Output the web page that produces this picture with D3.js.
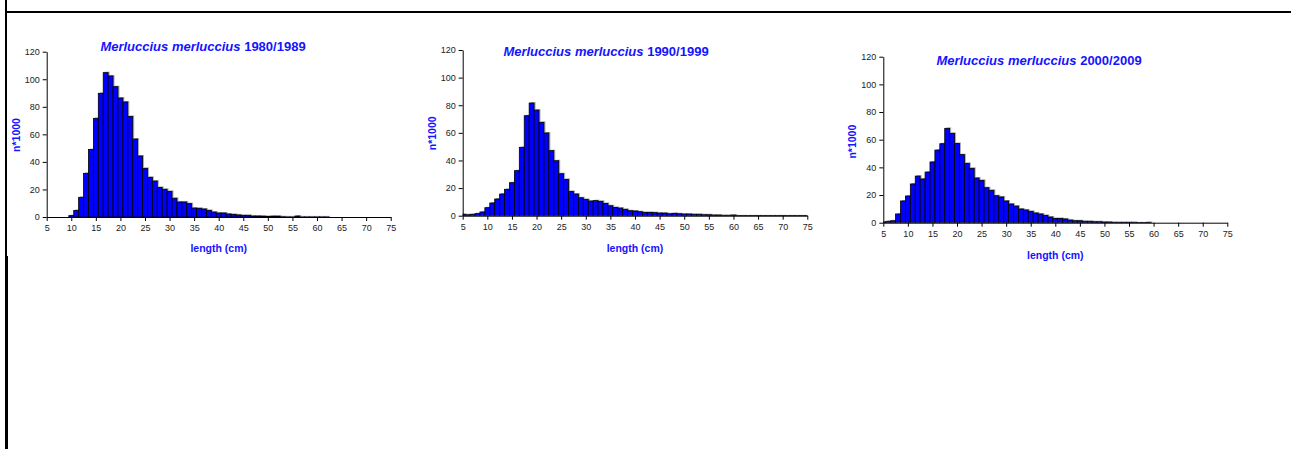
<!DOCTYPE html>
<html>
<head>
<meta charset="utf-8">
<script src="https://d3js.org/d3.v7.min.js"></script>
<style>
  body { margin: 0; background: #fff; }
  svg { display: block; font-family: "Liberation Sans", Arial, sans-serif; }
  .tick text { fill: #222; font-size: 9px; }
  .ttl { fill: #1414ff; font-weight: bold; font-size: 13px; }
  .lab { fill: #1414ff; font-weight: bold; font-size: 10.5px; }
</style>
</head>
<body>
<svg id="chart" width="1291" height="449"></svg>
<script>
// length classes (cm)
const lengths = [5,6,7,8,9,10,11,12,13,14,15,16,17,18,19,20,21,22,23,24,25,26,27,28,29,30,
  31,32,33,34,35,36,37,38,39,40,41,42,43,44,45,46,47,48,49,50,51,52,53,54,55,56,57,58,59,60,
  61,62,63,64,65,66,67,68,69,70,71,72,73,74,75];
const xTicks = [5,10,15,20,25,30,35,40,45,50,55,60,65,70,75];
const yTicks = [0,20,40,60,80,100,120];
const periods = ["1980/1989", "1990/1999", "2000/2009"];

// n*1000 per length class
const n1980 = [0,0,0,0,0, 1,4.8,14.3,31.7,49,71.6,89.8,104.8,102.4,94.6,
  86.4,83.5,73,56.6,44.3,35.3,28.8,26.1,21.5,20.1,
  18.6,13.6,10.9,10.9,9.7,6.5,6.3,5.8,4.8,3.6,
  2.9,2.9,2.2,1.9,1.5,1.2,1.2,0.7,0.7,0.6,
  0.4,0.6,0.6,0.2,0.1,0.1,0.7,0.1,0.1,0.1,
  0.1,0.1,0.1,0,0,0,0,0,0,0, 0,0,0,0,0,0];
const n1990 = [1,0.7,1,1.5,2.7, 5.8,9.2,12.1,15.7,19.1,23.9,32.6,49.5,72.4,81.6,
  76.5,67.6,59.9,47.1,39.8,30.4,26.3,17.6,15.7,13,
  11.8,10.6,10.9,10.4,8.9,7.2,6,5.5,4.6,3.6,
  3.4,2.9,2.4,2.4,2.2,1.9,1.9,1.4,1.7,1.4,
  1.2,1.2,1,1,0.7,0.7,0.5,0.5,0.3,0.3,
  0.5,0.1,0.1,0.1,0.1,0.1,0.1,0.1,0.1,0.1, 0.1,0.1,0.1,0.1,0.1,0.1];
const n2000 = [0.5,1,1.4,6.3,15.7, 19.3,28,33.7,31.6,36.6,43.9,52.5,57.1,68.2,64.6,
  57.3,49.2,42.9,39.3,32.3,30.6,25.3,23.4,19.5,18.6,
  15.7,13.5,12,9.9,9.2,8.2,7,6.3,5.3,4.1,
  3.1,3.1,2.7,1.9,1.4,1.4,1,1,0.7,0.7,
  0.5,0.5,0.3,0.3,0.3,0.3,0.3,0.1,0.1,0.3,
  0,0,0,0,0,0,0,0,0,0, 0,0,0,0,0,0];

const svg = d3.select("#chart");

// frame lines
svg.append("line").attr("x1",6).attr("x2",1291).attr("y1",12).attr("y2",12)
  .attr("stroke","#000").attr("stroke-width",2);
svg.append("line").attr("x1",6).attr("x2",6).attr("y1",0).attr("y2",449)
  .attr("stroke","#000").attr("stroke-width",2);
svg.append("line").attr("x1",6.5).attr("x2",6.5).attr("y1",256).attr("y2",449)
  .attr("stroke","#000").attr("stroke-width",3);

// panel placements
const panels = [
  {vals:n1980, x0:46.7, x1:390.7, yt:51.7, yb:217, ty:46.7, tx:203, xly:248, ylx:16, yly:135},
  {vals:n1990, x0:462.7, x1:807.3, yt:50, yb:215.7, ty:51.7, tx:606, xly:248.3, ylx:431.7, yly:133.3},
  {vals:n2000, x0:883.3, x1:1227.3, yt:56.7, yb:222.7, ty:60, tx:1039, xly:255, ylx:851.7, yly:141.7}
];

panels.forEach((p, k) => {
  const xs = d3.scaleLinear().domain([5,75]).range([p.x0, p.x1]);
  const ys = d3.scaleLinear().domain([0,120]).range([p.yb, p.yt]);
  const g = svg.append("g");
  const data = lengths.map((l,i) => ({l:l, v:p.vals[i]}));

  const clipId = "clip" + k;
  svg.append("clipPath").attr("id", clipId).append("rect")
    .attr("x", p.x0).attr("y", p.yt - 5).attr("width", p.x1 - p.x0).attr("height", p.yb - p.yt + 5);

  const bars = g.append("g").attr("clip-path", "url(#" + clipId + ")");
  const shown = data.filter(d => d.v > 0);
  // soft shadow
  bars.selectAll("rect.sh").data(shown).join("rect").attr("class","sh")
    .attr("x", d => xs(d.l - 0.5) + 1.5)
    .attr("y", d => ys(d.v) - 1)
    .attr("width", d => xs(d.l + 0.5) - xs(d.l - 0.5))
    .attr("height", d => ys(0) - ys(d.v))
    .attr("fill", "#aaa");
  bars.selectAll("rect.bar").data(shown).join("rect").attr("class","bar")
    .attr("x", d => xs(d.l - 0.5))
    .attr("y", d => ys(d.v))
    .attr("width", d => xs(d.l + 0.5) - xs(d.l - 0.5))
    .attr("height", d => ys(0) - ys(d.v))
    .attr("fill", "#0000ff")
    .attr("stroke", "#000")
    .attr("stroke-width", 0.8);

  const yAxis = d3.axisLeft(ys).tickValues(yTicks).tickSize(4).tickSizeOuter(0).tickPadding(3);
  const xAxis = d3.axisBottom(xs).tickValues(xTicks).tickSize(4).tickSizeOuter(0).tickPadding(4);

  const ga = g.append("g").attr("transform","translate(" + p.x0 + ",0)").call(yAxis);
  const gx = g.append("g").attr("transform","translate(0," + p.yb + ")").call(xAxis);
  [ga, gx].forEach(a => {
    a.attr("font-family", null).attr("font-size", null);
    a.selectAll("path,line").attr("stroke", "#000");
  });

  const t = g.append("text").attr("class","ttl").attr("x", p.tx).attr("y", p.ty + 4.5)
    .attr("text-anchor","middle");
  t.append("tspan").attr("font-style","italic").text("Merluccius merluccius");
  t.append("tspan").text(" " + periods[k]);

  g.append("text").attr("class","lab").attr("x", (p.x0 + p.x1)/2).attr("y", p.xly + 4)
    .attr("text-anchor","middle").text("length (cm)");
  g.append("text").attr("class","lab")
    .attr("transform","translate(" + (p.ylx + 4) + "," + p.yly + ") rotate(-90)")
    .attr("text-anchor","middle").text("n*1000");
});
</script>
</body>
</html>
